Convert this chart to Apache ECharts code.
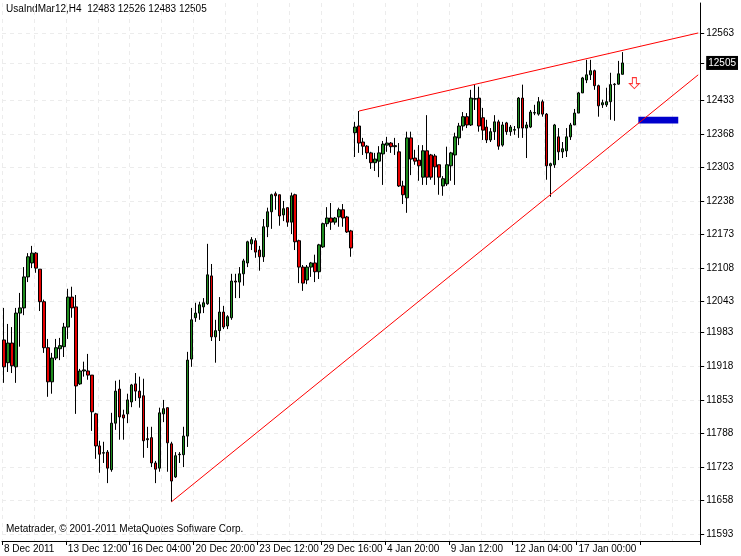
<!DOCTYPE html>
<html><head><meta charset="utf-8">
<script src="https://cdn.jsdelivr.net/npm/echarts@6/dist/echarts.min.js"></script>
<style>html,body{margin:0;padding:0;background:#fff}#c{width:741px;height:556px}</style>
</head><body><div id="c"></div>
<script>
// [open, close, low, high]
const candles = [
[11969,11917,11886,12031],[11925,11963,11907,12000],[11963,11919,11905,11994],[11917,12021,11886,12031],
[12021,12031,11956,12060],[12031,12091,12017,12110],[12091,12130,12081,12137],[12118,12137,12108,12151],
[12137,12108,12099,12139],[12106,12043,12025,12106],[12043,11954,11944,12047],[11954,11888,11859,11971],
[11888,11934,11865,11944],[11934,11954,11930,11971],[11952,11958,11930,11973],[11956,11994,11936,12002],
[11994,12052,11971,12068],[12052,12031,12012,12072],[12033,11880,11826,12056],[11884,11909,11882,11913],
[11909,11911,11898,11927],[11909,11901,11892,11942],[11901,11830,11793,11901],[11826,11764,11739,11828],
[11764,11748,11712,11774],[11750,11751,11731,11772],[11752,11721,11692,11756],[11718,11808,11714,11828],
[11808,11870,11795,11890],[11874,11820,11776,11892],[11824,11818,11776,11834],[11826,11853,11808,11865],
[11849,11882,11839,11884],[11884,11870,11851,11905],[11870,11857,11838,11898],[11861,11774,11741,11894],
[11776,11778,11760,11801],[11780,11731,11723,11801],[11731,11719,11692,11735],[11721,11828,11714,11838],
[11826,11836,11810,11853],[11838,11770,11714,11838],[11768,11696,11656,11772],[11704,11745,11702,11752],
[11747,11748,11731,11752],[11747,11783,11723,11801],[11783,11930,11762,11946],[11932,12008,11917,12031],
[12012,12021,12004,12041],[12021,12037,12008,12043],[12033,12041,12021,12050],[12039,12095,12037,12155],
[12093,11975,11967,12116],[11975,11987,11925,12008],[11987,12023,11967,12052],[12023,11994,11990,12035],
[11996,12014,11990,12017],[12012,12083,12008,12097],[12083,12081,12050,12097],[12081,12097,12050,12110],
[12097,12122,12074,12126],[12118,12159,12110,12161],[12155,12163,12143,12168],[12161,12139,12128,12166],
[12143,12130,12103,12151],[12130,12188,12120,12203],[12188,12217,12168,12225],[12217,12250,12184,12252],
[12252,12248,12221,12256],[12250,12209,12190,12250],[12211,12223,12199,12238],[12225,12197,12188,12225],
[12197,12248,12174,12254],[12250,12159,12143,12252],[12161,12110,12079,12163],[12110,12079,12064,12114],
[12085,12110,12077,12114],[12110,12118,12091,12120],[12118,12101,12081,12134],[12101,12153,12087,12155],
[12149,12194,12147,12196],[12194,12205,12188,12226],[12205,12197,12182,12234],[12197,12205,12192,12207],
[12207,12221,12188,12225],[12221,12205,12188,12232],[12207,12178,12176,12209],[12180,12147,12130,12182],
[12370,12381,12323,12391],[12383,12350,12331,12412],[12352,12344,12327,12360],[12344,12331,12319,12346],
[12331,12312,12300,12333],[12312,12319,12296,12331],[12315,12331,12284,12344],[12329,12348,12269,12354],
[12346,12350,12333,12362],[12350,12343,12331,12352],[12343,12345,12327,12360],[12333,12267,12265,12350],
[12267,12250,12232,12277],[12244,12360,12215,12372],[12360,12319,12288,12372],[12321,12315,12308,12337],
[12317,12306,12277,12346],[12284,12335,12269,12346],[12335,12284,12269,12404],[12327,12284,12279,12329],
[12325,12304,12269,12329],[12308,12284,12250,12308],[12267,12281,12248,12286],[12271,12308,12267,12343],
[12306,12331,12277,12333],[12327,12362,12269,12370],[12360,12383,12346,12389],[12383,12401,12374,12410],
[12401,12385,12379,12408],[12385,12437,12383,12453],[12435,12436,12414,12463],[12437,12383,12372,12459],
[12399,12375,12356,12418],[12381,12356,12350,12395],[12356,12372,12352,12379],[12372,12391,12356,12404],
[12391,12344,12337,12395],[12346,12385,12343,12391],[12389,12372,12366,12391],[12372,12381,12364,12385],
[12375,12376,12366,12383],[12379,12437,12360,12439],[12437,12379,12360,12463],[12379,12385,12321,12391],
[12381,12410,12379,12414],[12408,12409,12404,12424],[12406,12430,12403,12439],[12430,12406,12401,12434],
[12406,12306,12279,12408],[12306,12310,12246,12312],[12308,12385,12302,12387],[12362,12333,12317,12379],
[12333,12339,12321,12352],[12335,12362,12323,12379],[12362,12385,12356,12389],[12385,12408,12385,12416],
[12408,12447,12408,12449],[12447,12476,12447,12478],[12472,12482,12466,12511],[12482,12490,12472,12511],
[12490,12461,12453,12492],[12461,12422,12401,12463],[12424,12428,12418,12434],[12424,12430,12420,12457],
[12430,12463,12395,12486],[12463,12464,12393,12466],[12464,12484,12463,12509],[12483,12505,12483,12526]
];
const slotCount = 175;
const xLabels = ["8 Dec 2011","13 Dec 12:00","16 Dec 04:00","20 Dec 20:00","23 Dec 12:00","29 Dec 16:00","4 Jan 20:00","9 Jan 12:00","12 Jan 04:00","17 Jan 00:00"];
const yTicks = [12563,12505,12433,12368,12303,12238,12173,12108,12043,11983,11918,11853,11788,11723,11658,11593];
const lastPrice = 12505;
const lowerTrend = [[42,11656],[174,12482]];
const upperTrend = [[89,12412],[174,12563]];
const levelBox = {from:159,to:169,low:12388,high:12401};
const arrowPoint = [158,12466];
const title = "UsaIndMar12,H4  12483 12526 12483 12505";
const footer = "Metatrader, © 2001-2011 MetaQuotes Software Corp.";

const cats = Array.from({length:slotCount},(_,i)=>String(i));
const F = '"Liberation Sans", Arial, sans-serif';
const chart = echarts.init(document.getElementById('c'));
chart.setOption({
  animation:false,
  backgroundColor:'#fff',
  textStyle:{fontFamily:F},
  grid:{left:2,right:38,top:3,bottom:15},
  xAxis:{type:'category',data:cats,boundaryGap:true,
    axisLine:{lineStyle:{color:'#000'}},
    axisTick:{show:true,interval:(i)=>i%16===0,length:4,lineStyle:{color:'#000'}},
    axisLabel:{interval:(i)=>i%16===0,formatter:(v,i)=>xLabels[i/16]||'',align:'left',fontSize:10,color:'#000',margin:3,fontFamily:F},
    splitLine:{show:true,interval:(i)=>i%8===0,lineStyle:{color:'#ececec',type:[4,4]}}
  },
  yAxis:{type:'value',position:'right',min:11580,max:12621,scale:true,
    axisLine:{show:true,lineStyle:{color:'#000'}},
    axisTick:{show:true,length:4,customValues:yTicks,lineStyle:{color:'#000'}},
    axisLabel:{customValues:yTicks,fontSize:10,color:'#000',margin:6,fontFamily:F,
      formatter:(v)=>v===lastPrice?'{b|'+v+'}':String(v),
      rich:{b:{backgroundColor:'#000',color:'#fff',padding:[2,2],fontSize:10,fontFamily:F}}},
    splitLine:{show:true,lineStyle:{color:'#ececec',type:[4,4]}}
  },
  series:[
    {type:'candlestick',data:candles,barWidth:3,
      itemStyle:{color:'#1e8c1e',color0:'#e60000',borderColor:'#000',borderColor0:'#000',borderWidth:1},
      markArea:{silent:true,itemStyle:{color:'#0000cc'},data:[[{xAxis:levelBox.from,yAxis:levelBox.low},{xAxis:levelBox.to,yAxis:levelBox.high}]]}
    },
    {type:'line',data:lowerTrend,symbol:'none',lineStyle:{color:'#ff0000',width:1},z:5},
    {type:'line',data:upperTrend,symbol:'none',lineStyle:{color:'#ff0000',width:1},z:5},
    {type:'scatter',data:[arrowPoint],symbol:'path://M3,0 L7,0 L7,6 L10,6 L5,11 L0,6 L3,6 Z',symbolSize:[10,11],
      itemStyle:{color:'#fff',borderColor:'#ff0000',borderWidth:1},z:6}
  ],
  graphic:[
    {type:'text',left:6,top:4,style:{text:title,fontSize:10,fill:'#000',fontFamily:F}},
    {type:'text',left:6,top:524,style:{text:footer,fontSize:10,fill:'#000',fontFamily:F}}
  ]
});
</script></body></html>
